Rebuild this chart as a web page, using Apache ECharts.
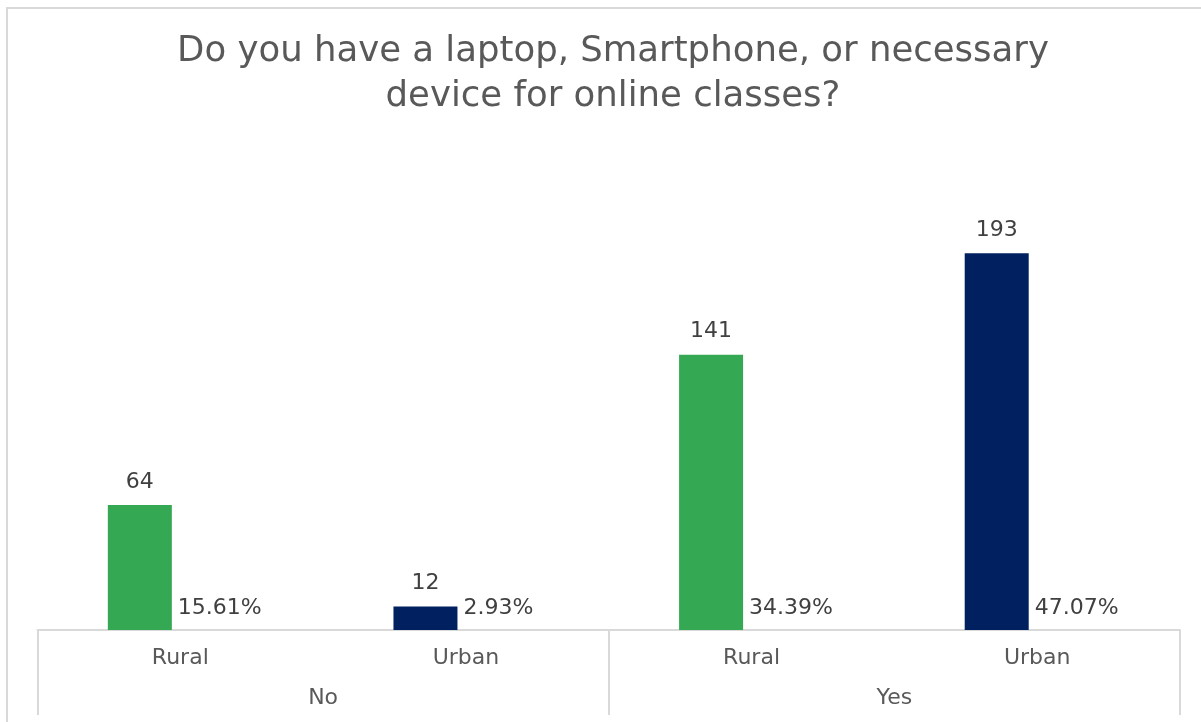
<!DOCTYPE html>
<html>
<head>
<meta charset="utf-8">
<script src="https://cdn.jsdelivr.net/npm/echarts@6/dist/echarts.min.js"></script>
<style>
  html, body { margin: 0; padding: 0; background: #fff; overflow: hidden; }
  #frame { position: absolute; left: 6px; top: 7px; width: 1240px; height: 760px; border: 2px solid #d9d9d9; box-sizing: border-box; }
  #chart { position: absolute; left: 0; top: 0; width: 1201px; height: 722px; }
</style>
</head>
<body>
<div id="frame"></div>
<div id="chart"></div>
<script>
const titleText = 'Do you have a laptop, Smartphone, or necessary\ndevice for online classes?';
const categories = ['Rural', 'Urban', 'Rural', 'Urban'];
const groups = ['No', 'Yes'];
const counts = [64, 12, 141, 193];
const pcts = [15.61, 2.93, 34.39, 47.07];
const colorRural = '#34A853';
const colorUrban = '#002060';

const FONT = 'DejaVu Sans';
const chart = echarts.init(document.getElementById('chart'));

const option = {
  backgroundColor: 'transparent',
  animation: false,
  title: {
    text: titleText,
    left: 608,
    textAlign: 'center',
    top: 24,
    textStyle: { fontFamily: FONT, fontSize: 35.5, fontWeight: 'normal', color: '#595959', lineHeight: 45 }
  },
  grid: [
    { left: 37.5, right: 21, top: 142, bottom: 92 },
    { left: 37.5, right: 21, top: 142, bottom: 92 }
  ],
  xAxis: [
    { type: 'category', gridIndex: 0, data: categories, show: false },
    {
      type: 'category', gridIndex: 1, data: categories, position: 'bottom', offset: 0,
      axisLine: { show: true, lineStyle: { color: '#d9d9d9', width: 2 } },
      axisTick: { show: false },
      axisLabel: { margin: 17, fontFamily: FONT, fontSize: 22, color: '#595959' }
    },
    {
      type: 'category', gridIndex: 1, data: groups, position: 'bottom', offset: 0,
      axisLine: { show: false },
      axisTick: { show: true, length: 85, interval: 0, lineStyle: { color: '#d9d9d9', width: 2 } },
      axisLabel: { margin: 57, fontFamily: FONT, fontSize: 22, color: '#595959' }
    }
  ],
  yAxis: [
    { type: 'value', gridIndex: 0, min: 0, max: 250, show: false },
    { type: 'value', gridIndex: 1, min: 0, max: 250, show: false }
  ],
  series: [
    {
      type: 'bar', name: 'Count', xAxisIndex: 0, yAxisIndex: 0,
      barWidth: 64, barGap: '26.5%',
      data: counts.map((v, i) => ({
        value: v,
        itemStyle: { color: categories[i] === 'Rural' ? colorRural : colorUrban }
      })),
      label: {
        show: true, position: 'top', distance: 12,
        fontFamily: FONT, fontSize: 22, color: '#404040'
      }
    },
    {
      type: 'bar', name: 'Percent', xAxisIndex: 0, yAxisIndex: 0,
      barWidth: 64,
      data: pcts,
      itemStyle: { color: 'rgba(0,0,0,0)' },
      label: {
        show: true, position: 'insideBottomLeft', distance: 5,
        offset: [-16, -6],
        formatter: (p) => p.value.toFixed(2) + '%',
        fontFamily: FONT, fontSize: 22, color: '#404040'
      }
    }
  ]
};
chart.setOption(option);
</script>
</body>
</html>
